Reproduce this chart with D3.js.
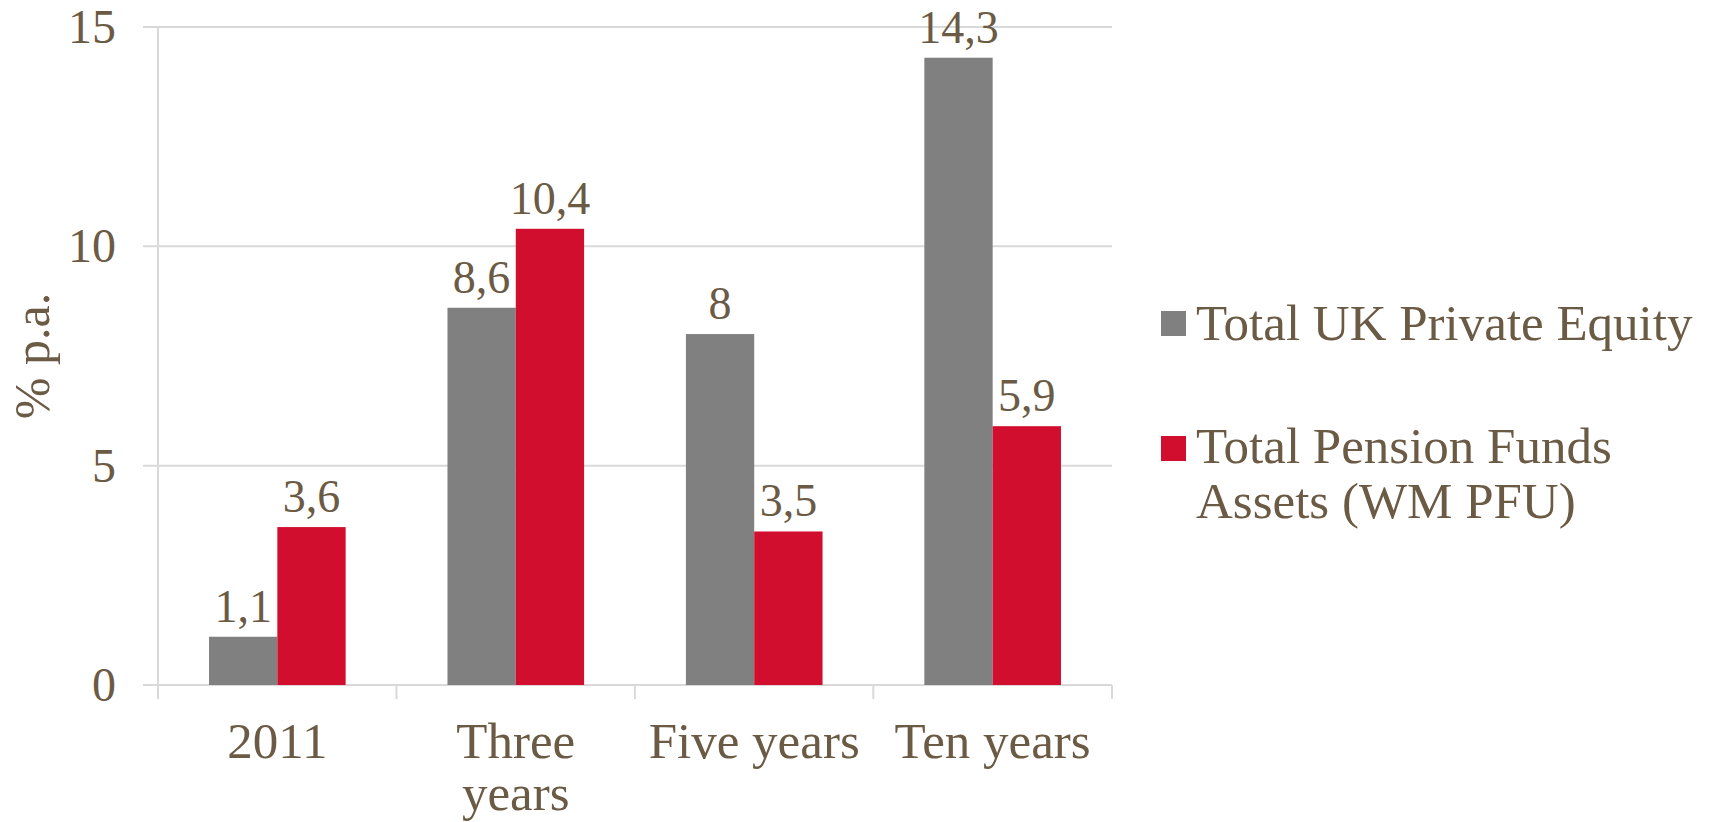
<!DOCTYPE html>
<html>
<head>
<meta charset="utf-8">
<script src="https://cdn.jsdelivr.net/npm/d3@7"></script>
<style>
  body { margin: 0; background: #fff; }
  text { font-family: "Liberation Serif", "Times New Roman", serif; fill: #6b5a44; }
</style>
</head>
<body>
<div id="chart"></div>
<script>
// data
var categories = ["2011", "Three years", "Five years", "Ten years"];
var seriesNames = ["Total UK Private Equity", "Total Pension Funds Assets (WM PFU)"];
var privateEquity = [1.1, 8.6, 8, 14.3];
var pensionFunds = [3.6, 10.4, 3.5, 5.9];
var yTicks = [0, 5, 10, 15];

var colors = ["#808080", "#d20e2f"];

var width = 1721, height = 822;
var margin = {top: 27, left: 158, right: 609, bottom: 137};

var svg = d3.select("#chart")
  .append("svg")
  .attr("width", width)
  .attr("height", height);

var x = d3.scaleBand()
  .domain(categories)
  .range([margin.left, width - margin.right])
  .paddingInner(0.427)
  .paddingOuter(0.214);

var x1 = d3.scaleBand()
  .domain([0, 1])
  .range([0, x.bandwidth()]);

var y = d3.scaleLinear()
  .domain([0, 15])
  .range([height - margin.bottom, margin.top]);

// gridlines
svg.append("g")
  .selectAll("line")
  .data(yTicks)
  .join("line")
  .attr("x1", margin.left - 15)
  .attr("x2", width - margin.right)
  .attr("y1", d => y(d))
  .attr("y2", d => y(d))
  .attr("stroke", "#d9d9d9")
  .attr("stroke-width", 2);

// y axis line
svg.append("line")
  .attr("x1", margin.left).attr("x2", margin.left)
  .attr("y1", y(15)).attr("y2", y(0) + 14)
  .attr("stroke", "#d9d9d9")
  .attr("stroke-width", 2);

// category ticks on the zero line
var bounds = categories.map(c => x(c) - x.step() * x.paddingOuter());
bounds.push(width - margin.right);
svg.append("g")
  .selectAll("line")
  .data(bounds)
  .join("line")
  .attr("x1", d => d).attr("x2", d => d)
  .attr("y1", y(0)).attr("y2", y(0) + 14)
  .attr("stroke", "#d9d9d9")
  .attr("stroke-width", 2);

// y tick labels
svg.append("g")
  .selectAll("text")
  .data(yTicks)
  .join("text")
  .attr("x", 116)
  .attr("y", d => y(d) + 16)
  .attr("text-anchor", "end")
  .style("font-size", "48px")
  .text(d => d);

// y axis title
svg.append("text")
  .attr("transform", "translate(49," + 356 + ") rotate(-90)")
  .attr("text-anchor", "middle")
  .style("font-size", "50px")
  .text("% p.a.");

// bars
var series = [privateEquity, pensionFunds];
series.forEach(function(values, s) {
  var g = svg.append("g");
  g.selectAll("rect")
    .data(values)
    .join("rect")
    .attr("x", (d, i) => x(categories[i]) + x1(s))
    .attr("y", d => y(d))
    .attr("width", x1.bandwidth())
    .attr("height", d => y(0) - y(d))
    .attr("fill", colors[s]);

  g.selectAll("text")
    .data(values)
    .join("text")
    .attr("x", (d, i) => x(categories[i]) + x1(s) + x1.bandwidth() / 2)
    .attr("y", d => y(d) - 15)
    .attr("text-anchor", "middle")
    .style("font-size", "46px")
    .text(d => String(d).replace(".", ","));
});

// x labels, wrapped like the original
var xl = svg.append("g")
  .selectAll("text")
  .data(categories)
  .join("text")
  .attr("x", d => x(d) + x.bandwidth() / 2)
  .attr("y", 758)
  .attr("text-anchor", "middle")
  .style("font-size", "51px")
  .text(d => d);

xl.each(function(d) {
  var t = d3.select(this);
  if (this.getComputedTextLength() > 230) {
    var words = d.split(" ");
    var cx = t.attr("x");
    t.text(null);
    words.forEach(function(w, i) {
      t.append("tspan")
        .attr("x", cx)
        .attr("dy", i == 0 ? 0 : 52)
        .text(w);
    });
  }
});

// legend
var legendRows = [
  {lines: ["Total UK Private Equity"], top: 311, base: 340},
  {lines: ["Total Pension Funds", "Assets (WM PFU)"], top: 436, base: 463}
];
legendRows.forEach(function(r, i) {
  svg.append("rect")
    .attr("x", 1161)
    .attr("y", r.top)
    .attr("width", 25)
    .attr("height", 25)
    .attr("fill", colors[i]);
  var t = svg.append("text")
    .attr("x", 1196)
    .attr("y", r.base)
    .style("font-size", "51px");
  r.lines.forEach(function(l, j) {
    t.append("tspan")
      .attr("x", 1196)
      .attr("dy", j == 0 ? 0 : 55)
      .text(l);
  });
});
</script>
</body>
</html>
